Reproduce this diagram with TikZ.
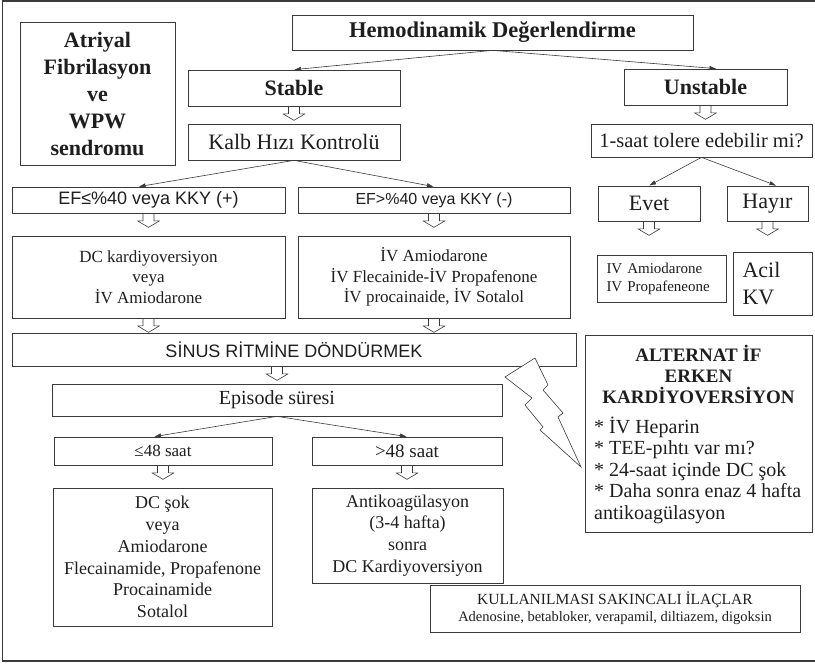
\documentclass[tikz,border=0pt]{standalone}
\usepackage{fontspec}
\setmainfont{Liberation Serif}
\newfontfamily\sansf{Liberation Sans}
\usetikzlibrary{arrows.meta}
\definecolor{linec}{HTML}{3A3A3A}
\definecolor{textc}{HTML}{1E1E1E}
\newcommand{\fsz}[2]{\fontsize{#1}{#2}\selectfont}
\tikzset{
  box/.style={draw=linec,line width=0.7pt,inner sep=0pt,text=textc,align=center},
  head/.style={font=\fsz{22}{27}\bfseries},
  arrow/.style={-{Latex[length=7pt,width=4.5pt]},line width=0.6pt,draw=linec},
  blk/.pic={\draw[linec,line width=0.6pt,line join=round]
    (-5.5,0) -- (-5.5,7.5) -- (-11,7.5) -- (0,14) -- (11,7.5) -- (5.5,7.5) -- (5.5,0);}
}

\begin{document}
\begin{tikzpicture}[x=1pt,y=-1pt]

  \useasboundingbox (0,0) rectangle (815,665);
  \draw[linec,line width=1.6pt] (815,1) -- (2.5,1) -- (2.5,661) -- (815,661);

  \node[box,head,minimum width=155pt,minimum height=143pt] (atrial) at (97.5,93.5)
    {Atriyal\\Fibrilasyon\\ve\\WPW\\sendromu};
  \node[box,head,font=\fsz{22.5}{27}\bfseries,minimum width=401pt,minimum height=35pt] (hemo) at (492.5,32.5) {Hemodinamik Değerlendirme};
  \node[box,head,minimum width=212pt,minimum height=36pt] (stable) at (294,88) {Stable};
  \node[box,head,minimum width=163pt,minimum height=36pt] (unstable) at (705.5,87) {Unstable};
  \node[box,font=\fsz{22}{26},minimum width=212pt,minimum height=36pt] (kalb) at (294,142) {Kalb Hızı Kontrolü};
  \node[box,font=\fsz{20.5}{24},minimum width=221pt,minimum height=33pt] (tolere) at (701.5,140.5) {1-saat tolere edebilir mi?};

  \node[box,font=\sansf\fsz{18}{20},minimum width=273pt,minimum height=26pt] (efle) at (148.5,200) {EF≤\%40 veya KKY (+)};
  \node[box,font=\sansf\fsz{16}{18},minimum width=272pt,minimum height=26pt] (efgt) at (434,200) {EF>\%40 veya KKY (-)};
  \node[box,font=\fsz{22}{26},minimum width=102pt,minimum height=35pt] (evet) at (649,203.5) {Evet};
  \node[box,font=\fsz{22}{26},minimum width=81pt,minimum height=35pt] (hayir) at (767.5,203.5) {Hayır};

  \node[box,font=\fsz{17}{20.5},minimum width=273pt,minimum height=82pt] (dckard) at (148.5,277)
    {DC kardiyoversiyon\\veya\\İV Amiodarone};
  \node[box,font=\fsz{17}{20.5},minimum width=272pt,minimum height=82pt] (ivamio) at (434,277)
    {İV Amiodarone\\İV Flecainide-İV Propafenone\\İV procainaide, İV Sotalol};
  \node[box,font=\fsz{15}{18},align=left,text width=110pt,minimum width=129pt,minimum height=47pt] (ivsmall) at (661.5,278.5)
    {IV Amiodarone\\IV Propafeneone};
  \node[box,font=\fsz{22}{27},align=left,text width=60pt,minimum width=79pt,minimum height=63pt] (acil) at (772.5,283.5)
    {Acil\\KV};

  \node[box,font=\sansf\fsz{18}{20},minimum width=564pt,minimum height=33pt] (sinus) at (294,349.5) {SİNUS RİTMİNE DÖNDÜRMEK};
  \node[box,font=\fsz{20}{24},minimum width=450pt,minimum height=32pt] (episode) at (277,400) {Episode süresi};
  \node[box,font=\fsz{17}{20},minimum width=218pt,minimum height=28pt] (le48) at (163,451) {≤48 saat};
  \node[box,font=\fsz{19}{22},minimum width=190pt,minimum height=28pt] (gt48) at (407,451) {>48 saat};

  \node[box,font=\fsz{18}{21.8},minimum width=219pt,minimum height=138pt] (dcsok) at (162.5,557)
    {DC şok\\veya\\Amiodarone\\Flecainamide, Propafenone\\Procainamide\\Sotalol};
  \node[box,font=\fsz{18}{21.8},minimum width=191pt,minimum height=95pt] (antiko) at (407.5,535.5)
    {Antikoagülasyon\\(3-4 hafta)\\sonra\\DC Kardiyoversiyon};

  % alternatif kutusu
  \node[box,minimum width=227pt,minimum height=197pt] (alt) at (698.5,433.5) {};
  \node[font=\fsz{19}{21}\bfseries,text=textc,align=center,inner sep=0pt] (althead) at (698.5,374)
    {ALTERNAT İF\\ERKEN\\KARDİYOVERSİYON};
  \node[font=\fsz{20}{21.5},text=textc,align=left,inner sep=0pt,anchor=west] (altlist) at (594,470)
    {* İV Heparin\\* TEE-pıhtı var mı?\\* 24-saat içinde DC şok\\* Daha sonra enaz 4 hafta\\antikoagülasyon};

  \node[box,font=\fsz{15.5}{17},minimum width=370pt,minimum height=47pt] (kull) at (615,608.5)
    {KULLANILMASI SAKINCALI İLAÇLAR\\{\fsz{14.5}{17}Adenosine, betabloker, verapamil, diltiazem, digoksin}};

  % simsek
  \draw[linec,line width=0.6pt,fill=white] (535,358) -- (505,377) -- (532,398) -- (525,405) -- (543,427)
    -- (540,430) -- (581,467) -- (558,417) -- (563,413) -- (543,390) -- (548,385) -- cycle;

  \draw[arrow] (hemo.south) -- (stable.north);
  \draw[arrow] (hemo.south) -- ([xshift=11pt]unstable.north);
  \draw[arrow] (kalb.south) -- ([xshift=-10pt]efle.north);
  \draw[arrow] (kalb.south) -- (efgt.north);
  \draw[arrow] (tolere.south) -- (evet.north);
  \draw[arrow] (tolere.south) -- ([xshift=9pt]hayir.north);
  \draw[arrow] (episode.south) -- ([xshift=-9pt]le48.north);
  \draw[arrow] (episode.south) -- (gt48.north);

  \pic at (stable.south) {blk};
  \pic at (unstable.south) {blk};
  \pic at (efle.south) {blk};
  \pic at (efgt.south) {blk};
  \pic at (evet.south) {blk};
  \pic at (hayir.south) {blk};
  \pic at (dckard.south) {blk};
  \pic at (ivamio.south) {blk};
  \pic at (episode.north |- sinus.south) {blk};
  \pic at (le48.south) {blk};
  \pic at (gt48.south) {blk};

\end{tikzpicture}
\end{document}
